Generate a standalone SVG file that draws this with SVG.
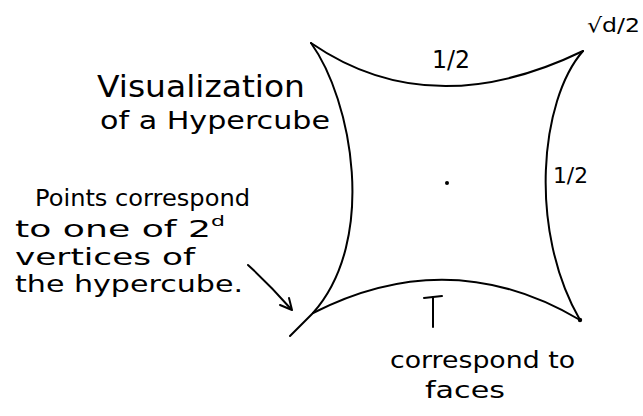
<svg xmlns="http://www.w3.org/2000/svg" width="643" height="416" viewBox="0 0 643 416">
<style>
.s{fill:none;stroke:#000;stroke-width:2;stroke-linecap:round;stroke-linejoin:round}
.t{font-family:"DejaVu Sans","Liberation Sans",sans-serif;fill:#000;font-weight:normal}
.b{font-size:23px}
</style>
<rect width="643" height="416" fill="#fff"/>
<g id="hypercube">
<path class="s" d="M311,43 Q430,125 583,51"/>
<path class="s" d="M583,51 C540,100 528,230 580,320"/>
<path class="s" d="M580,320 Q450,243 313,313"/>
<path class="s" d="M311,43 C352,100 378,240 313,313 L290,336"/>
<circle cx="447" cy="183" r="2" fill="#000"/>
<circle cx="580" cy="320" r="2.2" fill="#000"/>
</g>
<g id="labels">
<text class="t" x="432" y="68" font-size="24" textLength="38" lengthAdjust="spacingAndGlyphs">1/2</text>
<text class="t" x="587" y="32" font-size="20" textLength="53" lengthAdjust="spacingAndGlyphs">√d/2</text>
<text class="t" x="553" y="183" font-size="22" textLength="35" lengthAdjust="spacingAndGlyphs">1/2</text>
<text class="t" x="97" y="97" font-size="30" font-weight="300" textLength="208" lengthAdjust="spacingAndGlyphs">Visualization</text>
<text class="t" x="100" y="129" font-size="25" textLength="230" lengthAdjust="spacingAndGlyphs">of a Hypercube</text>
<text class="t b" x="35" y="206" textLength="215" lengthAdjust="spacingAndGlyphs">Points correspond</text>
<text class="t b" x="15" y="237" textLength="210" lengthAdjust="spacingAndGlyphs">to one of 2<tspan font-size="14" dy="-11">d</tspan></text>
<text class="t b" x="15" y="265" textLength="180" lengthAdjust="spacingAndGlyphs">vertices of</text>
<text class="t b" x="15" y="292" textLength="228" lengthAdjust="spacingAndGlyphs">the hypercube.</text>
<text class="t" x="390" y="368" font-size="23" textLength="185" lengthAdjust="spacingAndGlyphs">correspond to</text>
<text class="t" x="425" y="398" font-size="23" textLength="80" lengthAdjust="spacingAndGlyphs">faces</text>
</g>
<g id="connectors">
<path class="s" d="M248,265 Q270,285 291,309"/>
<path class="s" d="M280,305 L292,310 L289,298"/>
<path class="s" d="M433,327 L433,297"/>
<path class="s" d="M424,298 L442,296"/>
</g>
</svg>
